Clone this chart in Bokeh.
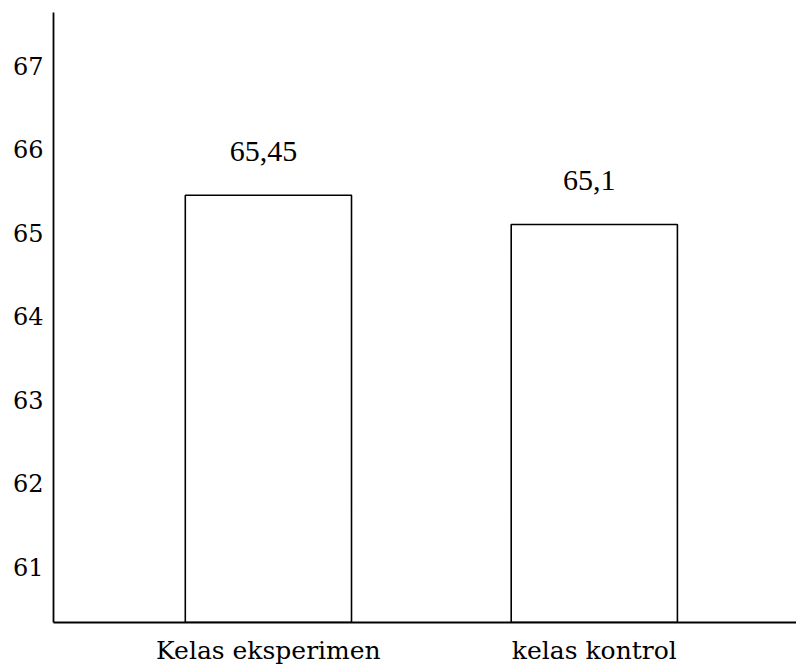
from bokeh.plotting import figure
from bokeh.models import Range1d, FixedTicker, ColumnDataSource, LabelSet
from bokeh.embed import file_html
from bokeh.resources import INLINE

categories = ["Kelas eksperimen", "kelas kontrol"]
values = [65.45, 65.1]
value_labels = ["65,45", "65,1"]
y_ticks = [61, 62, 63, 64, 65, 66, 67]

Y_START, Y_END = 60.33, 67.64
FONT = "DejaVu Serif"

xs = list(range(len(categories)))
src = ColumnDataSource(dict(x=xs, top=values, lab=value_labels))

p = figure(width=796, height=671, output_backend="svg", toolbar_location=None,
           x_range=Range1d(-0.6594, 1.6204), y_range=Range1d(Y_START, Y_END),
           min_border_left=53, min_border_right=0, min_border_top=12, min_border_bottom=49)
p.outline_line_color = None
p.grid.visible = False
p.background_fill_color = "white"
p.border_fill_color = "white"

p.vbar(x="x", top="top", bottom=Y_START, width=0.51, source=src,
       fill_color="white", line_color="black", line_width=1.6)

labels = LabelSet(x="x", y="top", text="lab", source=src, text_align="center",
                  text_baseline="middle", y_offset=44, x_offset=-5,
                  text_font=FONT, text_font_size="30px", text_color="black")
p.add_layout(labels)

p.xaxis.ticker = FixedTicker(ticks=xs)
p.xaxis.major_label_overrides = {i: c for i, c in enumerate(categories)}
p.yaxis.ticker = FixedTicker(ticks=y_ticks)
for ax, fs, so in ((p.xaxis[0], "25px", 13), (p.yaxis[0], "24px", 10)):
    ax.major_tick_line_color = None
    ax.minor_tick_line_color = None
    ax.major_tick_out = 0
    ax.major_tick_in = 0
    ax.axis_line_color = "black"
    ax.axis_line_width = 1.8
    ax.major_label_text_font = FONT
    ax.major_label_text_font_size = fs
    ax.major_label_text_color = "black"
    ax.major_label_standoff = so

open("out.html", "w").write(file_html(p, INLINE))
